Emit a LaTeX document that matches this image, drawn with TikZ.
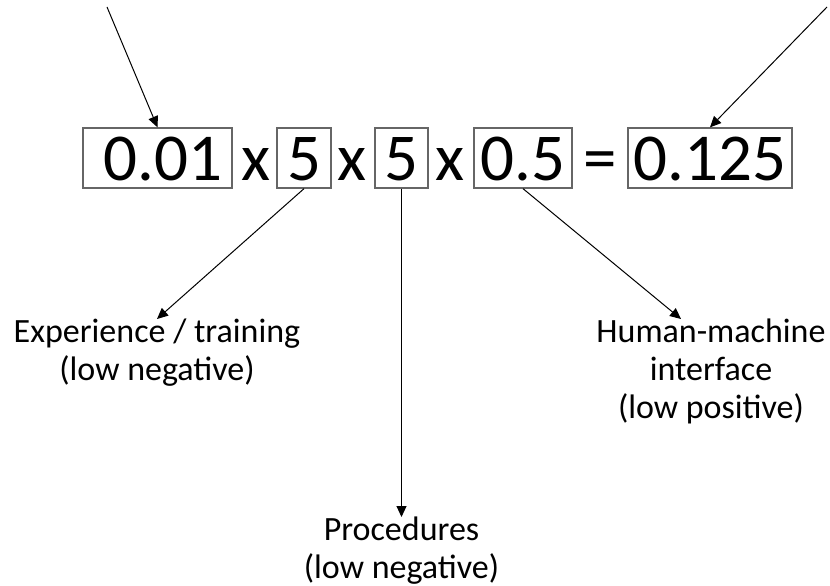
\documentclass[tikz,border=0pt]{standalone}
\usepackage{fontspec}
\setmainfont{Carlito}
\usetikzlibrary{arrows.meta,calc}

\begin{document}
\begin{tikzpicture}[x=1pt,y=-1pt,
  big/.style={font=\fontsize{67}{70}\selectfont, inner sep=0pt},
  numbox/.style={big, draw=black!60, line width=1.3pt,
    text height=52pt, text depth=8pt, minimum height=60pt, anchor=base},
  oper/.style={big, anchor=base},
  caption/.style={font=\fontsize{34}{38}\selectfont, align=center,
    inner sep=0pt, anchor=north},
  pointer/.style={line width=1pt, -{Triangle[length=11pt,width=10pt]}}]

  \useasboundingbox (0,0) rectangle (830,586);

  % the product and its factors
  \node[numbox, minimum width=149pt] (n1)  at (157.5,180) {\hspace*{11pt}0.01};
  \node[oper]                         (m1)  at (256,180)   {x};
  \node[numbox, minimum width=54pt]  (f1)  at (304,180)   {5};
  \node[oper]                         (m2)  at (352,180)   {x};
  \node[numbox, minimum width=53pt]  (f2)  at (401.5,180) {5};
  \node[oper]                         (m3)  at (450,180)   {x};
  \node[numbox, minimum width=98pt]  (f3)  at (523,180)   {0.5};
  \node[oper]                         (eq)  at (600,180)   {=};
  \node[numbox, minimum width=164pt] (res) at (710,180)   {0.125};

  % factor descriptions
  \node[caption] (lab1) at (157,319)   {Experience / training\\(low negative)};
  \node[caption] (lab2) at (401.5,517) {Procedures\\(low negative)};
  \node[caption] (lab3) at (711,319)   {Human-machine\\interface\\(low positive)};

  % incoming pointers
  \coordinate (tl) at (107,7);
  \coordinate (tr) at (827,7);
  \draw[pointer] (tl) -- (n1.north);
  \draw[pointer] (tr) -- (res.north);

  % factor pointers
  \draw[pointer] (f1.south) -- (lab1.north);
  \draw[pointer] (f2.south) -- (lab2.north);
  \draw[pointer] (f3.south) -- ($(lab3.north)+(-30,0)$);
\end{tikzpicture}
\end{document}
